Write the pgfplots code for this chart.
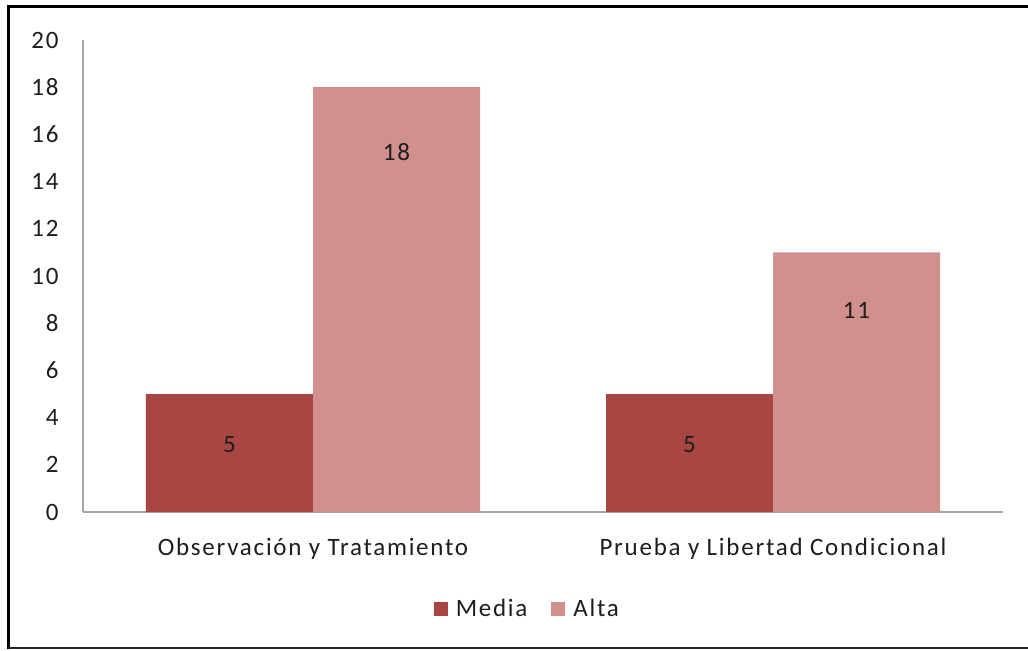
\documentclass[border=0pt]{standalone}
\usepackage{pgfplots}
\pgfplotsset{compat=1.18}
\usepackage{fontspec}
\setmainfont{Carlito}[LetterSpace=7]
\definecolor{media}{HTML}{A84644}
\definecolor{alta}{HTML}{D18F8D}
\definecolor{axgray}{HTML}{A6A6A6}
\definecolor{txt}{HTML}{1E1E1E}
\newcommand{\fs}{\fontsize{25bp}{28bp}\selectfont}
\begin{document}
\begin{tikzpicture}
\useasboundingbox (-83bp,-139bp) rectangle (945bp,512bp);
\fill[white] (-83bp,-139bp) rectangle (945bp,512bp);
\begin{axis}[
  at={(0,0)}, anchor=south west,
  scale only axis, width=920bp, height=472bp,
  xmin=-0.5, xmax=1.5, ymin=0, ymax=20,
  xtick={0,1},
  xticklabels={Observación y Tratamiento, Prueba y Libertad Condicional},
  ytick={0,2,...,20},
  axis lines=left, axis line style={axgray, line width=1.2bp, -},
  major tick length=0pt,
  tick style={draw=none},
  font=\fs,
  ticklabel style={font=\fs, text=txt},
  /pgf/number format/assume math mode=true,
  yticklabel style={xshift=-21bp},
  xticklabel style={yshift=-23bp},
  legend style={at={(0.483,-0.205)}, anchor=center, draw=none, fill=none,
    legend columns=2, font=\fs, text=txt,
    /tikz/every even column/.append style={column sep=22bp}},
  legend image code/.code={\fill[#1] (0bp,-7bp) rectangle (14bp,7bp); \path (20bp,0);},
  clip=false,
]
\addplot[ybar, bar width=167bp, bar shift=-83.5bp, fill=media, draw=none]
  coordinates {(0,5) (1,5)};
\addlegendentry{Media}
\addplot[ybar, bar width=167bp, bar shift=83.5bp, fill=alta, draw=none]
  coordinates {(0,18) (1,11)};
\addlegendentry{Alta}
\addplot[draw=none, mark=none, nodes near coords, point meta=explicit symbolic,
  every node near coord/.style={anchor=center, text=txt, font=\fs}]
  coordinates {(-0.1815,2.84)[5] (0.8185,2.84)[5] (0.1815,15.25)[18] (1.1815,8.56)[11]};
\end{axis}
\draw[black, line width=3bp] (-74bp,-137bp) -- (-74bp,505bp) -- (950bp,505bp);
\draw[black!85, line width=2bp] (-74bp,-136bp) -- (950bp,-136bp);
\end{tikzpicture}
\end{document}
